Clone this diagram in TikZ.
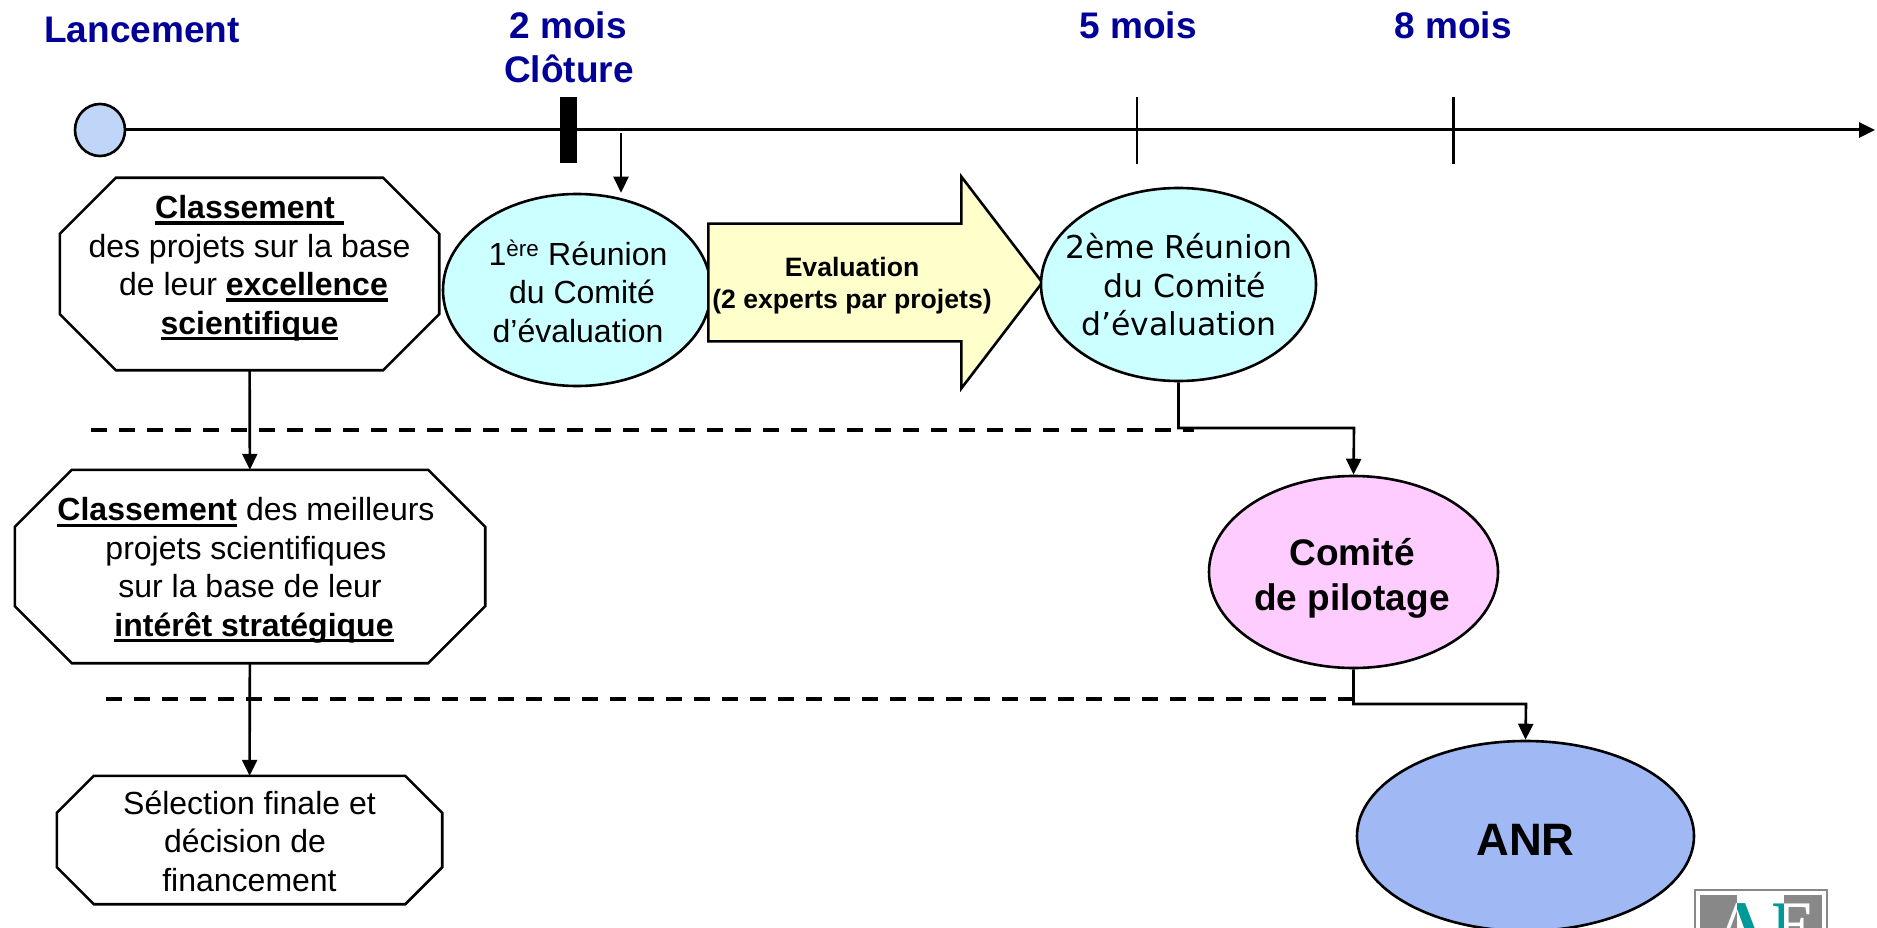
\documentclass[tikz,border=0pt]{standalone}
\usepackage{fontspec}
\setmainfont{Liberation Sans}
\newfontfamily\dejafont{DejaVu Sans}
\newfontfamily\logofont{Liberation Serif}
\usetikzlibrary{shapes.geometric,shapes.arrows,arrows.meta,calc}
\definecolor{HeadColor}{RGB}{0,0,153}
\definecolor{StartColor}{RGB}{192,214,248}
\definecolor{MeetColor}{RGB}{204,255,255}
\definecolor{EvalColor}{RGB}{255,255,204}
\definecolor{PilotColor}{RGB}{255,204,255}
\definecolor{AnrColor}{RGB}{160,184,244}
\definecolor{LogoGray}{RGB}{136,136,136}
\definecolor{LogoTeal}{RGB}{0,153,153}
\newcommand{\ulb}[1]{\setbox0\hbox{\textbf{#1}}\leavevmode\rlap{\rule[-6pt]{\wd0}{3.4pt}}\box0\relax}
\newcommand{\octline}[2]{\draw[line width=2.6pt]
  ($(#1.north west)+(#2,0)$) -- ($(#1.north east)+(-#2,0)$) -- ($(#1.north east)+(0,#2)$)
  -- ($(#1.south east)+(0,-#2)$) -- ($(#1.south east)+(-#2,0)$) -- ($(#1.south west)+(#2,0)$)
  -- ($(#1.south west)+(0,-#2)$) -- ($(#1.north west)+(0,#2)$) -- cycle;}
\begin{document}
\begin{tikzpicture}[x=1pt,y=-1pt,
body/.style={font=\fontsize{32}{38.5}\selectfont,align=center,inner sep=0pt},
head/.style={font=\fontsize{37}{43}\selectfont\bfseries,text=HeadColor,align=center,inner sep=0pt},
oct/.style n args={2}{rectangle,minimum width=#1,minimum height=#2,inner sep=0pt},
ell/.style n args={3}{ellipse,draw,line width=2.6pt,fill=#1,minimum width=#2,minimum height=#3,inner sep=0pt},
link/.style={line width=2.6pt,-{Triangle[length=16pt,width=15pt]}},
sep/.style={line width=4pt,dash pattern=on 16pt off 12pt},
tick/.style={line width=2.6pt},
logo/.style={font=\fontsize{65}{65}\selectfont\logofont\bfseries,inner sep=0pt,anchor=base}]
\useasboundingbox (0,0) rectangle (1877,928);
% time axis
\node[ell={StartColor}{50}{52}] (n0) at (100,130) {};
\coordinate (axisend) at (1875,130);
\draw[line width=3pt,-{Triangle[length=16pt,width=15pt]}] (n0) -- (axisend);
\coordinate (m2t) at (568.5,97); \coordinate (m2b) at (568.5,163);
\draw[line width=17pt] (m2t) -- (m2b);
\foreach \x/\1 in %
{1137/m5,1453.5/m8} {
   \coordinate (\1t) at (\x,97);
   \coordinate (\1b) at (\x,164);
   \draw[tick] (\1t) -- (\1b);
}
\node[head,anchor=base] (lab0) at (142,43) {Lancement};
\node[head,anchor=base] (lab2a) at (568,39) {2 mois};
\node[head,anchor=base] (lab2b) at (569,83) {Clôture};
\node[head,anchor=base] (lab5) at (1138,39) {5 mois};
\node[head,anchor=base] (lab8) at (1453,39) {8 mois};
% separators
\coordinate (s1a) at (91,430); \coordinate (s1b) at (1194,430);
\coordinate (s2a) at (106,699); \coordinate (s2b) at (1352,699);
\draw[sep] (s1a) -- (s1b);
\draw[sep] (s2a) -- (s2b);
% left column
\node[oct={379}{192}] (c1) at (249.5,274) {};
\octline{c1}{56}
\node[body] (tc1) at (249.5,268) {\ulb{Classement }\\des projets sur la base\\\hspace*{8pt}de leur \ulb{excellence}\\\ulb{scientifique}};
\node[oct={470}{193}] (c2) at (250,566.5) {};
\octline{c2}{57}
\node[body] (tc2) at (250,570.5) {\hspace*{-8pt}\ulb{Classement} des meilleurs\\\hspace*{-8pt}projets scientifiques\\sur la base de leur\\\hspace*{8pt}\ulb{intérêt stratégique}};
\node[oct={385}{128}] (c3) at (249.5,840) {};
\octline{c3}{37}
\node[body] (tc3) at (249.5,841) {Sélection finale et\\\hspace*{-9pt}décision de\\financement};
% meetings
\node[ell={MeetColor}{268}{192}] (r1) at (577,290) {};
\node[body] (t1) at (578,291) {1\textsuperscript{ère} Réunion\\\hspace*{8pt}du Comité\\d’évaluation};
\node[single arrow,draw,line width=2.6pt,fill=EvalColor,anchor=tail,inner xsep=0pt,inner ysep=57.5pt,minimum height=334,minimum width=209,single arrow head extend=47,single arrow head indent=0pt,single arrow tip angle=105.2] (ev) at (707,282.5) {};
\node[inner sep=0pt,align=center,font=\fontsize{26.6}{32}\selectfont\bfseries] (evt) at (852,286) {Evaluation\\(2 experts par projets)};
\node[ell={MeetColor}{275}{193}] (r2) at (1178.5,284.5) {};
\node[body,font=\fontsize{31.5}{38.5}\selectfont\dejafont] (t2) at (1179,285) {2ème Réunion\\\hspace*{12pt}du Comité\\d’évaluation};
% decision
\node[ell={PilotColor}{289}{192}] (pil) at (1353.5,572) {};
\node[body,font=\fontsize{37}{45}\selectfont\bfseries] (tpil) at (1352,578) {Comité\\de pilotage};
\node[ell={AnrColor}{337}{190}] (anr) at (1525.5,836) {};
\node[body,font=\fontsize{45.4}{50}\selectfont\bfseries] (tanr) at (1525.5,839.5) {ANR};
% links
\coordinate (top1) at (621,133);
\coordinate (j1) at (1354,428);
\coordinate (j2) at (1526,704);
\draw[link] (top1) -- (r1.north -| top1);
\draw[link] (c1) -- (c2);
\draw[link] (c2) -- (c3);
\draw[link] (r2.south) |- (j1) -- (pil.north);
\draw[link] (pil.south) |- (j2) -- (anr.north);
% logo, cut by the page
\draw[LogoGray,line width=2.2pt] (1695,890) rectangle (1827,960);
\fill[LogoGray] (1700,895) rectangle (1737,960);
\fill[LogoGray] (1784,895) rectangle (1822,960);
\begin{scope}
\clip (1700,895) rectangle (1737,960);
\node[logo,white] (la1) at (1741,946) {A};
\end{scope}
\begin{scope}
\clip (1737,895) rectangle (1784,960);
\node[logo,LogoTeal] (la2) at (1741,946) {A};
\node[logo,LogoTeal] (le2) at (1794,946) {E};
\end{scope}
\begin{scope}
\clip (1784,895) rectangle (1822,960);
\node[logo,white] (le1) at (1794,946) {E};
\end{scope}
\end{tikzpicture}
\end{document}
